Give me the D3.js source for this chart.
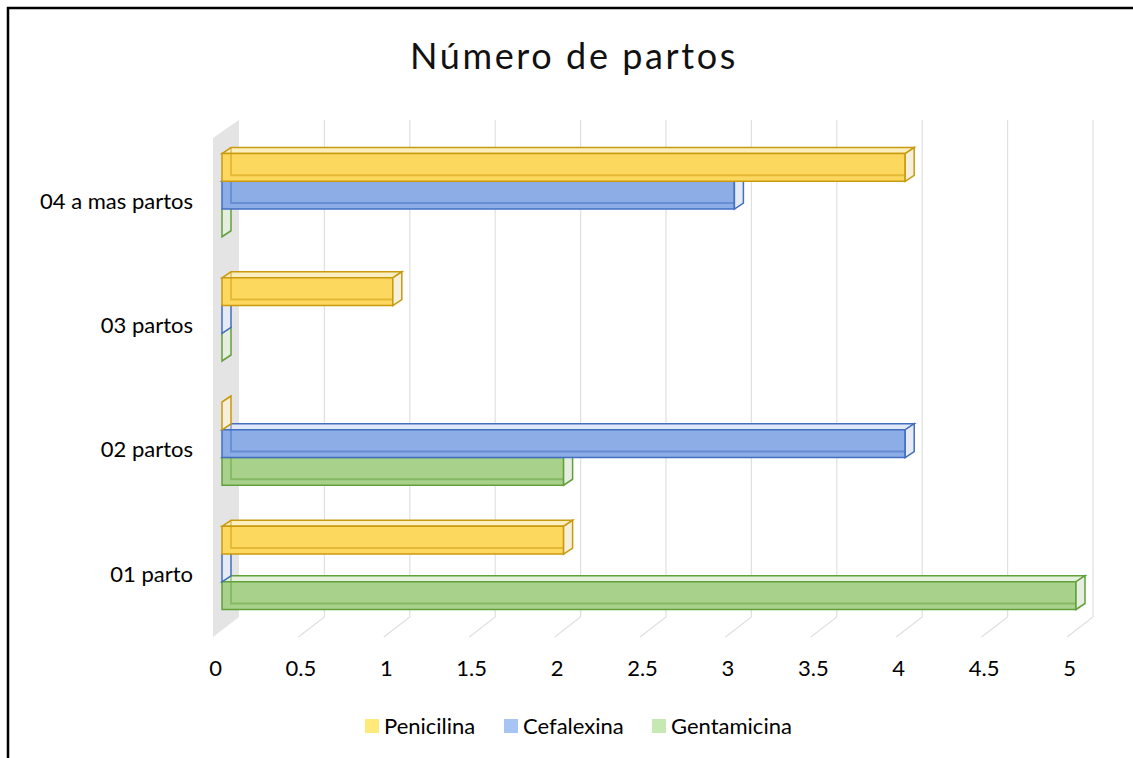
<!DOCTYPE html>
<html>
<head>
<meta charset="utf-8">
<script src="https://cdn.jsdelivr.net/npm/d3@7"></script>
<style>
  body { margin: 0; background: #fff; }
  text { font-family: Lato, "Open Sans", sans-serif; fill: #000; }
</style>
</head>
<body>
<div id="chart"></div>
<script>
const categories = ["04 a mas partos", "03 partos", "02 partos", "01 parto"];
const series = ["Penicilina", "Cefalexina", "Gentamicina"];
const penicilina = [4, 1, 0, 2];
const cefalexina = [3, 0, 4, 0];
const gentamicina = [0, 0, 2, 5];
const tickValues = [0, 0.5, 1, 1.5, 2, 2.5, 3, 3.5, 4, 4.5, 5];

const values = [penicilina, cefalexina, gentamicina];

const width = 1133;
const height = 758;
const depthX = 9, depthY = -6;   // 3d offset of the bars
const backX = 17, floorX = -9, floorY = 20; // offset of back wall / floor

const colors = {
    Penicilina: { front: "#fdd85e", top: "#fbefbf", side: "#f5efdc", stroke: "#c99a0e", key: "#ffe97a" },
    Cefalexina: { front: "#8dade6", top: "#dfe8f8", side: "#e6ebf3", stroke: "#426fc0", key: "#a8c4f4" },
    Gentamicina: { front: "#a8d28c", top: "#e4f1da", side: "#e6eee0", stroke: "#63a03b", key: "#c6e8b2" }
};

const svg = d3.select("#chart")
    .append("svg")
    .attr("width", width)
    .attr("height", height);

// outer frame (top and left)
svg.append("path")
    .attr("d", `M8,${height} V8 H${width}`)
    .attr("fill", "none")
    .attr("stroke", "#000")
    .attr("stroke-width", 2.5);

svg.append("text")
    .attr("x", 574)
    .attr("y", 69)
    .attr("text-anchor", "middle")
    .style("font-size", "36px")
    .style("letter-spacing", "2.6px")
    .style("fill", "#111")
    .text("Número de partos");

const x = d3.scaleLinear()
    .domain([0, 5])
    .range([222, 1076]);

const y0 = d3.scaleBand()
    .domain(categories)
    .range([133, 630])
    .paddingInner(0.33)
    .paddingOuter(0.165);

const y1 = d3.scaleBand()
    .domain(series)
    .range([0, y0.bandwidth()]);

const wallTop = 120, wallBottom = 617;

// left side wall
svg.append("path")
    .attr("d", `M${x(0) + floorX},${wallBottom + floorY} L${x(0) + backX},${wallBottom} V${wallTop} L${x(0) + floorX},${wallTop + 18} Z`)
    .attr("fill", "#e4e4e4");

// grid lines on back wall and floor
svg.append("g")
    .selectAll("path")
    .data(tickValues.slice(1))
    .enter().append("path")
    .attr("d", d => `M${x(d) + backX},${wallTop} V${wallBottom} L${x(d) + floorX},${wallBottom + floorY}`)
    .attr("fill", "none")
    .attr("stroke", "#e0e0e0")
    .attr("stroke-width", 1.2);

// bars
const groups = svg.append("g")
    .selectAll("g")
    .data(categories)
    .enter().append("g")
    .attr("transform", d => `translate(0,${y0(d)})`);

const bars = groups.selectAll("g")
    .data((c, ci) => series.map((s, si) => ({ s, v: values[si][ci] })).reverse())
    .enter().append("g");

bars.each(function (d) {
    const g = d3.select(this);
    const c = colors[d.s];
    const x0 = x(0), x1 = x(d.v);
    const t = y1(d.s), b = t + y1.bandwidth();
    // top face
    g.append("path")
        .attr("d", `M${x0},${t} L${x0 + depthX},${t + depthY} H${x1 + depthX} L${x1},${t} Z`)
        .attr("fill", c.top)
        .attr("stroke", c.stroke)
        .attr("stroke-width", 1.5);
    // front face
    g.append("rect")
        .attr("x", x0)
        .attr("y", t)
        .attr("width", x1 - x0)
        .attr("height", b - t)
        .attr("fill", c.front)
        .attr("stroke", c.stroke)
        .attr("stroke-width", 1.5);
    // hidden edges seen through the bar
    if (d.v > 0) {
        g.append("path")
            .attr("d", `M${x0 + depthX},${t + depthY} V${b + depthY} H${x1}`)
            .attr("fill", "none")
            .attr("stroke", c.stroke)
            .attr("stroke-opacity", 0.5)
            .attr("stroke-width", 1.8);
    }
    // end face
    g.append("path")
        .attr("d", `M${x1},${t} L${x1 + depthX},${t + depthY} V${b + depthY} L${x1},${b} Z`)
        .attr("fill", c.side)
        .attr("stroke", c.stroke)
        .attr("stroke-width", 1.5);
});

// category labels
svg.append("g")
    .selectAll("text")
    .data(categories)
    .enter().append("text")
    .attr("x", 193)
    .attr("y", d => y0(d) + y0.bandwidth() / 2 + 6)
    .attr("dy", "0.35em")
    .attr("text-anchor", "end")
    .style("font-size", "22px")
    .text(d => d);

// value axis
const axis = svg.append("g")
    .attr("transform", `translate(-7,${wallBottom + floorY + 23})`)
    .call(d3.axisBottom(x).tickValues(tickValues).tickSize(0).tickPadding(0).tickFormat(d3.format("")));
axis.select(".domain").remove();
axis.selectAll("text")
    .style("font-size", "22px")
    .style("font-family", "Lato, 'Open Sans', sans-serif")
    .attr("fill", "#000");

// legend
const legendX = [365, 504, 652];
const legend = svg.append("g")
    .selectAll("g")
    .data(series)
    .enter().append("g")
    .attr("transform", (d, i) => `translate(${legendX[i]},719)`);

legend.append("rect")
    .attr("width", 14)
    .attr("height", 14)
    .attr("fill", d => colors[d].key);

legend.append("text")
    .attr("x", 19)
    .attr("y", 7)
    .attr("dy", "0.35em")
    .style("font-size", "22px")
    .text(d => d);
</script>
</body>
</html>
